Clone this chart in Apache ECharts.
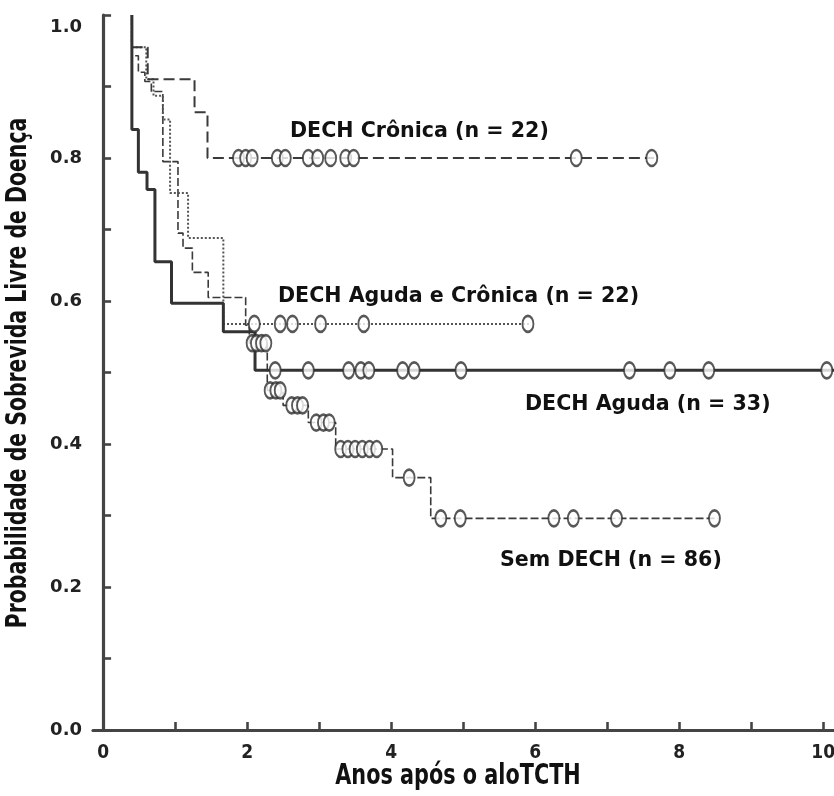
<!DOCTYPE html>
<html><head><meta charset="utf-8">
<script src="https://cdn.jsdelivr.net/npm/echarts@6.0.0/dist/echarts.min.js"></script>
<style>html,body{margin:0;padding:0;background:#fff}#c{width:834px;height:796px}</style>
</head><body><div id="c"></div>
<script>
// ---- data ----
const cronicaTimes  = [0.40, 0.40, 0.62, 1.27, 1.45, 7.65];
const cronicaValues = [1.00, 0.955, 0.910, 0.864, 0.800, 0.800];
const cronicaCensor = [1.88, 1.98, 2.07, 2.42, 2.53, 2.85, 2.98, 3.16, 3.37, 3.48, 6.57, 7.62];

const agudaCronicaTimes  = [0.40, 0.40, 0.60, 0.70, 0.83, 0.93, 1.18, 1.67, 5.93];
const agudaCronicaValues = [1.00, 0.955, 0.910, 0.887, 0.854, 0.751, 0.688, 0.568, 0.568];
const agudaCronicaCensor = [2.10, 2.46, 2.63, 3.02, 3.62, 5.90];

const agudaTimes  = [0.40, 0.40, 0.49, 0.61, 0.72, 0.95, 1.67, 2.11, 10.15];
const agudaValues = [1.00, 0.840, 0.780, 0.756, 0.655, 0.597, 0.557, 0.503, 0.503];
const agudaCensor = [2.39, 2.85, 3.41, 3.58, 3.69, 4.16, 4.32, 4.97, 7.31, 7.87, 8.41, 10.05];

const semTimes  = [0.40, 0.40, 0.49, 0.58, 0.67, 0.83, 0.83, 1.04, 1.11, 1.24, 1.46, 1.98, 2.03, 2.28, 2.50, 2.85, 3.23, 4.02, 4.55, 8.55];
const semValues = [1.00, 0.943, 0.920, 0.907, 0.893, 0.864, 0.795, 0.695, 0.674, 0.640, 0.605, 0.566, 0.541, 0.475, 0.454, 0.430, 0.393, 0.353, 0.296, 0.296];
const semCensor = [2.07, 2.13, 2.20, 2.26, 2.32, 2.40, 2.46, 2.62, 2.70, 2.77, 2.96, 3.06, 3.14, 3.30, 3.40, 3.50, 3.60, 3.70, 3.80, 4.25, 4.69, 4.96, 6.26, 6.53, 7.13, 8.49];

const xTickValues  = [0,1,2,3,4,5,6,7,8,9,10];
const xLabelValues = [0,2,4,6,8,10];
const yTickValues  = [0,0.1,0.2,0.3,0.4,0.5,0.6,0.7,0.8,0.9,1.0];
const yLabelValues = [0,0.2,0.4,0.6,0.8,1.0];

const xTitle = 'Anos após o aloTCTH';
const yTitle = 'Probabilidade de Sobrevida Livre de Doença';
const labels = [
  {text:'DECH Crônica (n = 22)',           left:290, top:121},
  {text:'DECH Aguda e Crônica (n = 22)',   left:278, top:286},
  {text:'DECH Aguda (n = 33)',             left:525, top:394},
  {text:'Sem DECH (n = 86)',               left:500, top:550}
];

// ---- helpers ----
function pairs(t, v){ return t.map((x,i)=>[x, v[i]]); }
function censorPts(times, values, cens){
  return cens.map(c=>{ let v = values[0]; for(let i=0;i<times.length;i++){ if(times[i] <= c) v = values[i]; } return [c, v]; });
}
const narrow = "'DejaVu Sans Condensed',sans-serif";
const wide = "'DejaVu Sans',sans-serif";
const lineColor = '#3a3a3a';

function stepSeries(name, t, v, style){
  return {name, type:'line', step:'end', data:pairs(t,v), showSymbol:false, silent:true,
    lineStyle:Object.assign({color:lineColor}, style), z:2};
}
function censorSeries(name, t, v, c){
  return {name:name+' cens', type:'scatter', data:censorPts(t,v,c), symbol:'circle', symbolSize:[11,16],
    itemStyle:{color:'#ffffff', borderColor:'#2e2e2e', borderWidth:2.2}, z:5, silent:true};
}

const chart = echarts.init(document.getElementById('c'), null, {renderer:'canvas'});
chart.setOption({
  animation:false,
  backgroundColor:'#ffffff',
  grid:{left:93, right:0, top:15, bottom:66, containLabel:false, outerBoundsMode:'none'},
  xAxis:{
    type:'value', min:-0.14, max:10.15,
    axisLine:{show:true, onZero:false, lineStyle:{color:'#444', width:3.2}},
    axisTick:{show:true, inside:true, length:8, customValues:xTickValues, lineStyle:{color:'#444', width:2.6}},
    axisLabel:{customValues:xLabelValues, fontFamily:narrow, fontWeight:'bold', fontSize:19, color:'#222', margin:14},
    splitLine:{show:false}
  },
  yAxis:{
    type:'value', min:0, max:1,
    axisLine:{show:true, lineStyle:{color:'#444', width:3.2}},
    axisTick:{show:true, inside:true, length:8, customValues:yTickValues, lineStyle:{color:'#444', width:2.6}},
    axisLabel:{customValues:yLabelValues,
      formatter:v=> v===1 ? '{t|1.0}' : v.toFixed(1),
      rich:{t:{fontFamily:wide, fontWeight:'bold', fontSize:18, color:'#222', padding:[24,0,0,0]}},
      fontFamily:wide, fontWeight:'bold', fontSize:18, color:'#222', margin:11},
    splitLine:{show:false}
  },
  series:[
    stepSeries('Sem DECH', semTimes, semValues, {width:1.6, type:[8,3]}),
    stepSeries('DECH Aguda e Crônica', agudaCronicaTimes, agudaCronicaValues, {width:2, type:[2,2], color:'#555'}),
    stepSeries('DECH Crônica', cronicaTimes, cronicaValues, {width:2, type:[11,5]}),
    stepSeries('DECH Aguda', agudaTimes, agudaValues, {width:3, color:'#333'}),
    censorSeries('Sem DECH', semTimes, semValues, semCensor),
    censorSeries('DECH Aguda e Crônica', agudaCronicaTimes, agudaCronicaValues, agudaCronicaCensor),
    censorSeries('DECH Crônica', cronicaTimes, cronicaValues, cronicaCensor),
    censorSeries('DECH Aguda', agudaTimes, agudaValues, agudaCensor)
  ],
  graphic: labels.map(l=>({type:'text', left:l.left, top:l.top, z:10,
    style:{text:l.text, fontFamily:wide, fontWeight:'bold', fontSize:20.6, fill:'#111'}}))
    .concat([
      {type:'text', x:458, y:777, scaleX:0.825, z:10,
        style:{text:xTitle, fontFamily:narrow, fontWeight:'bold', fontSize:28, fill:'#111', align:'center', verticalAlign:'middle'}},
      {type:'text', x:19, y:373, rotation:Math.PI/2, scaleX:0.81, z:10,
        style:{text:yTitle, fontFamily:narrow, fontWeight:'bold', fontSize:28, fill:'#111', align:'center', verticalAlign:'middle'}}
    ])
});
</script>
</body></html>
